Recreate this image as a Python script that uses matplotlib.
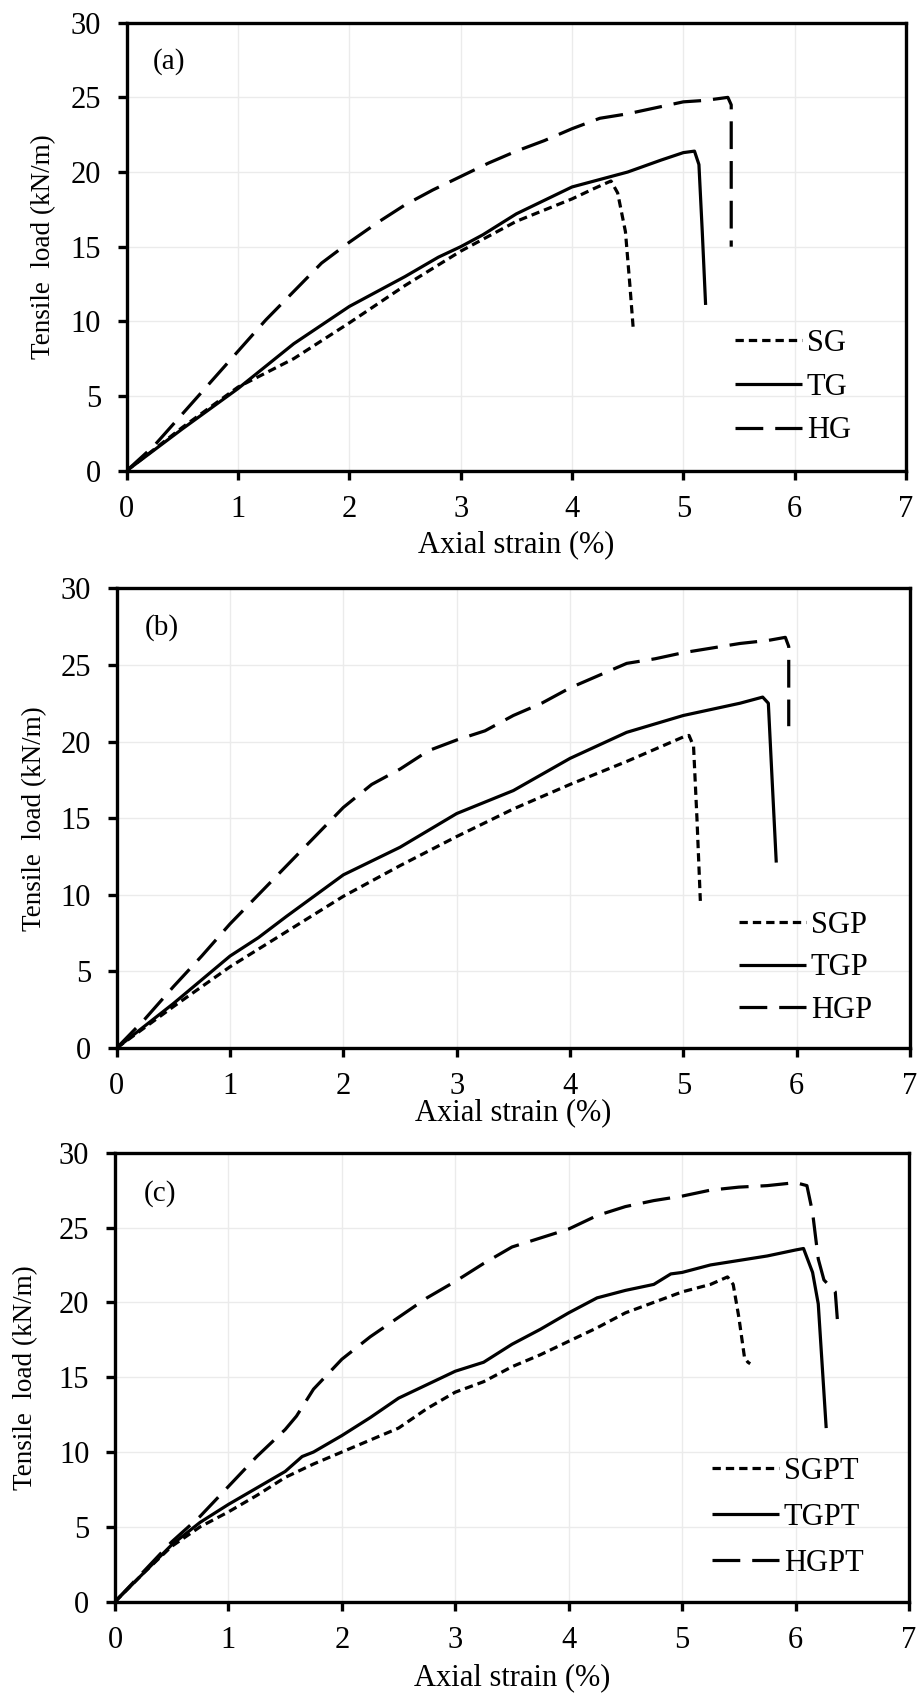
import matplotlib
matplotlib.use("Agg")
import matplotlib.pyplot as plt

plt.rcParams['font.family'] = ['Liberation Serif', 'DejaVu Serif']
plt.rcParams['lines.scale_dashes'] = False

# panel (a)
sg_x = [0, 0.5, 1.0, 1.5, 2.0, 2.5, 3.0, 3.5, 4.0, 4.2, 4.35, 4.41, 4.48, 4.52, 4.55]
sg_y = [0, 2.9, 5.6, 7.5, 9.9, 12.4, 14.7, 16.7, 18.2, 18.9, 19.4, 18.6, 16.0, 12.4, 9.5]
tg_x = [0, 0.5, 1.0, 1.25, 1.5, 2.0, 2.5, 2.8, 3.0, 3.2, 3.5, 4.0, 4.5, 4.8, 5.0, 5.1, 5.14, 5.17, 5.2]
tg_y = [0, 2.8, 5.5, 7.0, 8.5, 11.0, 13.0, 14.3, 15.0, 15.8, 17.2, 19.0, 20.0, 20.8, 21.3, 21.4, 20.5, 16.0, 11.1]
hg_x = [0, 0.25, 0.5, 0.75, 1.0, 1.25, 1.5, 1.75, 2.0, 2.25, 2.5, 2.75, 3.0, 3.25, 3.5, 3.75,
        4.0, 4.25, 4.5, 4.75, 5.0, 5.2, 5.4, 5.43, 5.43]
hg_y = [0, 1.7, 3.8, 5.9, 8.0, 10.1, 12.0, 13.9, 15.3, 16.6, 17.8, 18.8, 19.7, 20.6, 21.4, 22.1,
        22.9, 23.6, 23.9, 24.3, 24.7, 24.8, 25.0, 24.5, 15.0]

# panel (b)
sgp_x = [0, 0.5, 1.0, 1.5, 2.0, 2.5, 3.0, 3.5, 4.0, 4.5, 5.0, 5.05, 5.09, 5.12, 5.15]
sgp_y = [0, 2.7, 5.3, 7.6, 9.9, 11.9, 13.8, 15.6, 17.2, 18.7, 20.3, 20.4, 19.7, 15.0, 9.6]
tgp_x = [0, 0.5, 1.0, 1.25, 1.5, 2.0, 2.5, 3.0, 3.5, 4.0, 4.5, 5.0, 5.5, 5.7, 5.75, 5.78, 5.82]
tgp_y = [0, 2.9, 6.0, 7.2, 8.6, 11.3, 13.1, 15.3, 16.8, 18.9, 20.6, 21.7, 22.5, 22.9, 22.5, 18.0, 12.1]
hgp_x = [0, 0.25, 0.5, 0.75, 1.0, 1.25, 1.5, 1.75, 2.0, 2.25, 2.5, 2.75, 3.0, 3.25, 3.5, 3.75,
         4.0, 4.25, 4.5, 4.75, 5.0, 5.25, 5.5, 5.75, 5.9, 5.93, 5.93]
hgp_y = [0, 1.9, 4.0, 6.0, 8.1, 10.0, 11.9, 13.8, 15.7, 17.2, 18.2, 19.4, 20.1, 20.7, 21.7, 22.5,
         23.5, 24.3, 25.1, 25.4, 25.8, 26.1, 26.4, 26.6, 26.8, 26.2, 21.0]

# panel (c)
sgpt_x = [0, 0.25, 0.5, 0.75, 1.0, 1.25, 1.5, 1.75, 2.0, 2.25, 2.5, 2.75, 3.0, 3.25, 3.5, 3.75,
          4.0, 4.25, 4.5, 4.75, 5.0, 5.25, 5.4, 5.45, 5.5, 5.55, 5.58, 5.6]
sgpt_y = [0, 1.9, 3.7, 5.0, 6.0, 7.1, 8.3, 9.2, 10.0, 10.8, 11.6, 12.9, 14.0, 14.7, 15.7, 16.5,
          17.4, 18.3, 19.3, 20.0, 20.7, 21.2, 21.7, 21.2, 19.0, 16.3, 16.0, 15.9]
tgpt_x = [0, 0.25, 0.5, 0.75, 1.0, 1.25, 1.5, 1.65, 1.75, 2.0, 2.25, 2.5, 2.75, 3.0, 3.25, 3.5,
          3.75, 4.0, 4.1, 4.25, 4.5, 4.75, 4.9, 5.0, 5.25, 5.5, 5.75, 6.0, 6.07, 6.15, 6.2, 6.27]
tgpt_y = [0, 1.9, 3.8, 5.3, 6.5, 7.6, 8.7, 9.7, 10.0, 11.1, 12.3, 13.6, 14.5, 15.4, 16.0, 17.2,
          18.2, 19.3, 19.7, 20.3, 20.8, 21.2, 21.9, 22.0, 22.5, 22.8, 23.1, 23.5, 23.6, 22.0, 19.9, 11.6]
hgpt_x = [0, 0.25, 0.5, 0.75, 1.0, 1.25, 1.5, 1.6, 1.75, 2.0, 2.25, 2.5, 2.75, 3.0, 3.25, 3.5,
          3.75, 4.0, 4.25, 4.5, 4.75, 5.0, 5.25, 5.5, 5.75, 6.0, 6.1, 6.15, 6.2, 6.25, 6.3, 6.35, 6.37]
hgpt_y = [0, 2.0, 4.0, 5.7, 7.7, 9.7, 11.5, 12.4, 14.2, 16.2, 17.7, 19.0, 20.3, 21.4, 22.6, 23.7,
          24.3, 24.9, 25.8, 26.4, 26.8, 27.1, 27.5, 27.7, 27.8, 28.0, 27.8, 26.0, 22.9, 21.5, 21.1, 20.7, 18.7]

panels = [
    ("(a)", [(sg_x, sg_y, "SG"), (tg_x, tg_y, "TG"), (hg_x, hg_y, "HG")]),
    ("(b)", [(sgp_x, sgp_y, "SGP"), (tgp_x, tgp_y, "TGP"), (hgp_x, hgp_y, "HGP")]),
    ("(c)", [(sgpt_x, sgpt_y, "SGPT"), (tgpt_x, tgpt_y, "TGPT"), (hgpt_x, hgpt_y, "HGPT")]),
]

W, H = 921, 1694
# pixel boxes: left, right, top, bottom
boxes = [(126.7, 906, 22.7, 470.7), (116.7, 910, 588.3, 1048), (115, 909, 1152.7, 1601.7)]
xlabel_y = [545, 1113, 1678]
ylabel_x = [44, 35, 26]
legend_xy = [(735, 329), (739, 911), (712, 1457)]
legend_ls = [0.48, 0.435, 0.55]
tag_pos = [(0.38, 27.4), (0.40, 27.45), (0.40, 27.3)]

dash_styles = [(0, (6, 3.6)), "-", (0, (20, 8.6))]

fig = plt.figure(figsize=(W / 100, H / 100), dpi=100)

for i, (tag, series) in enumerate(panels):
    l, r, t, b = boxes[i]
    ax = fig.add_axes([l / W, 1 - b / H, (r - l) / W, (b - t) / H])
    for (x, y, name), ls in zip(series, dash_styles):
        ax.plot(x, y, color="black", lw=2.3, linestyle=ls, label=name, solid_capstyle="butt")
    ax.set_xlim(0, 7)
    ax.set_ylim(0, 30)
    ax.set_xticks(range(0, 8))
    ax.set_yticks(range(0, 31, 5))
    ax.grid(True, color="#ebebeb", lw=1)
    ax.set_axisbelow(True)
    for s in ax.spines.values():
        s.set_linewidth(2.4)
    ax.tick_params(axis="both", direction="out", length=6.5, width=2.4, labelsize=22)
    ax.tick_params(axis="y", pad=12)
    ax.tick_params(axis="x", pad=11)
    ax.set_xlabel("Axial strain (%)", fontsize=22, va="center")
    ax.xaxis.set_label_coords(0.5, (b - xlabel_y[i]) / (b - t))
    ax.set_ylabel("Tensile  load (kN/m)", fontsize=19.5, va="center")
    ax.yaxis.set_label_coords((ylabel_x[i] - l) / (r - l), 0.5)
    ax.text(tag_pos[i][0], tag_pos[i][1], tag, fontsize=21, ha="center", va="center")
    lx, ly = legend_xy[i]
    ax.legend(loc="upper left", bbox_to_anchor=((lx - l) / (r - l), (b - ly) / (b - t)),
              frameon=False, fontsize=22, handlelength=2.2, handletextpad=0.15,
              labelspacing=legend_ls[i], borderpad=0, borderaxespad=0)

fig.savefig("out.png", dpi=100)
